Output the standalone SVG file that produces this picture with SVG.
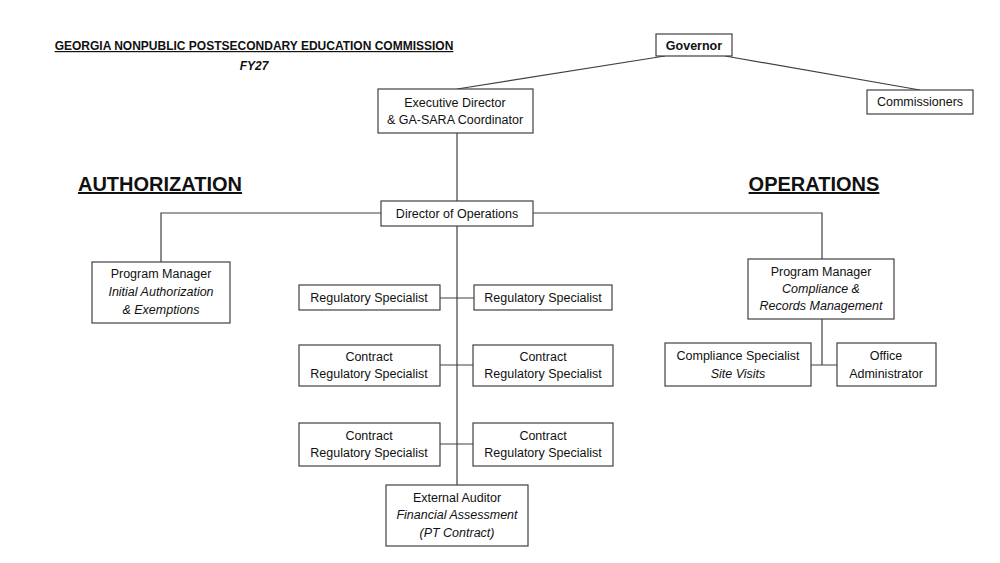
<svg xmlns="http://www.w3.org/2000/svg" width="1000" height="563" viewBox="0 0 1000 563">
<style>
rect{fill:#fff;stroke:#404040;stroke-width:1.2}
text{font-family:"Liberation Sans",Arial,sans-serif;font-size:12.5px;fill:#111;text-anchor:middle}
.i{font-style:italic}
.b{font-weight:bold}
.h{font-size:20px;font-weight:bold;text-decoration:underline}
#connectors path{fill:none;stroke:#404040;stroke-width:1.2}
</style>
<rect width="1000" height="563" style="fill:#fff;stroke:none"/>
<text x="254" y="50" class="b" style="font-size:12px;text-decoration:underline">GEORGIA NONPUBLIC POSTSECONDARY EDUCATION COMMISSION</text>
<text x="254" y="70" class="b i" style="font-size:12px">FY27</text>
<text x="160" y="191" class="h">AUTHORIZATION</text>
<text x="814" y="191" class="h">OPERATIONS</text>
<g id="connectors">
<path d="M665 56L457 89M725 56L920 90M457 133V485M161 262V213H381M533 213H822V259M440 298H474M400 365H473M400 444H473M822 319V365M811 365H837"/>
</g>
<g id="governor"><rect x="656" y="34" width="76" height="22"/><text x="694" y="50" class="b">Governor</text></g>
<g id="commissioners"><rect x="867" y="90" width="106" height="24"/><text x="920" y="106">Commissioners</text></g>
<g id="exec"><rect x="378" y="89" width="155" height="44"/><text x="455" y="107">Executive Director</text><text x="455" y="124">&amp; GA-SARA Coordinator</text></g>
<g id="dirops"><rect x="381" y="201" width="152" height="25"/><text x="457" y="218">Director of Operations</text></g>
<g id="pm-auth"><rect x="92" y="262" width="138" height="61"/><text x="161" y="278">Program Manager</text><text x="161" y="296" class="i">Initial Authorization</text><text x="161" y="314" class="i">&amp; Exemptions</text></g>
<g id="pm-ops"><rect x="748" y="259" width="146" height="60"/><text x="821" y="276">Program Manager</text><text x="821" y="293" class="i">Compliance &amp;</text><text x="821" y="310" class="i">Records Management</text></g>
<g id="rs1"><rect x="299" y="285" width="141" height="25"/><text x="369" y="302">Regulatory Specialist</text></g>
<g id="rs2"><rect x="474" y="285" width="138" height="25"/><text x="543" y="302">Regulatory Specialist</text></g>
<g id="crs1"><rect x="299" y="345" width="141" height="41"/><text x="369" y="361">Contract</text><text x="369" y="378">Regulatory Specialist</text></g>
<g id="crs2"><rect x="473" y="345" width="140" height="41"/><text x="543" y="361">Contract</text><text x="543" y="378">Regulatory Specialist</text></g>
<g id="crs3"><rect x="299" y="423" width="141" height="43"/><text x="369" y="440">Contract</text><text x="369" y="457">Regulatory Specialist</text></g>
<g id="crs4"><rect x="473" y="423" width="140" height="43"/><text x="543" y="440">Contract</text><text x="543" y="457">Regulatory Specialist</text></g>
<g id="auditor"><rect x="386" y="485" width="142" height="61"/><text x="457" y="502">External Auditor</text><text x="457" y="519" class="i">Financial Assessment</text><text x="457" y="537" class="i">(PT Contract)</text></g>
<g id="compliance"><rect x="665" y="343" width="146" height="43"/><text x="738" y="360">Compliance Specialist</text><text x="738" y="378" class="i">Site Visits</text></g>
<g id="office"><rect x="837" y="343" width="99" height="43"/><text x="886" y="360">Office</text><text x="886" y="378">Administrator</text></g>
</svg>
